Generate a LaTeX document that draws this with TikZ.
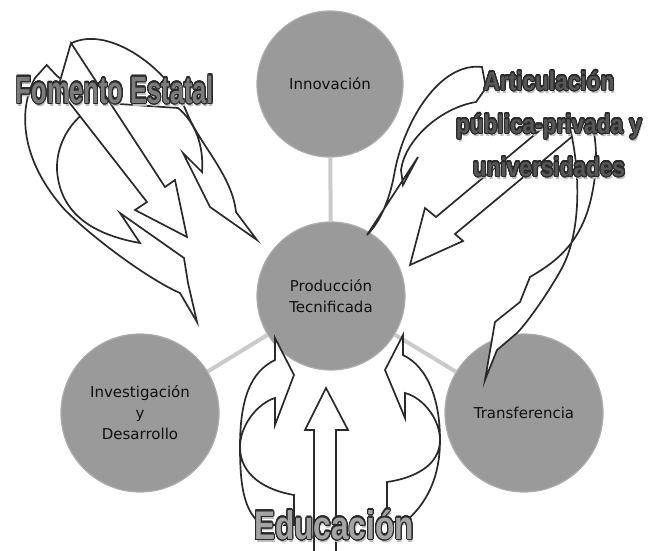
\documentclass[tikz,border=0pt]{standalone}
\usepackage{fontspec}
\usepackage{graphicx}
\usepackage[copies]{contour}
\usetikzlibrary{positioning}
\newfontfamily\circfont{DejaVu Sans}
\newfontfamily\artfont{Liberation Sans}
\definecolor{dgInk}{HTML}{111111}
\definecolor{dgCircle}{HTML}{9A9A9A}
\definecolor{dgRing}{HTML}{ACACAC}
\definecolor{dgLink}{HTML}{CACACA}
\definecolor{dgOutline}{HTML}{2A2A2A}
\definecolor{dgArtLine}{HTML}{2A2A2A}
\definecolor{dgShadow}{HTML}{BDBDBD}
\definecolor{dgFomFill}{HTML}{7C7C7C}
\definecolor{dgArtFill}{HTML}{575757}
\definecolor{dgEduFill}{HTML}{A4A4A4}
\contourlength{1.2pt}
\contournumber{24}
% texto tipo WordArt: sombra + contorno
\newcommand{\artword}[1]{\makebox[0pt][l]{\raisebox{-3pt}{\kern1.5pt\textcolor{dgShadow}{#1}}}\contour{dgArtLine}{#1}}
\tikzset{
  circ/.style={circle, fill=dgCircle, draw=dgRing, line width=1.2pt, minimum size=#1, inner sep=0pt, font=\circfont\fontsize{15}{21}\selectfont, text=dgInk, align=center},
  lnk/.style={draw=dgLink, line width=4pt},
  blk/.style={draw=dgOutline, fill=white, line width=1.7pt},
  wart/.style={inner sep=0pt, font=\artfont\bfseries},
}
\begin{document}
\begin{tikzpicture}[x=1pt, y=-1pt]
\useasboundingbox (0,0) rectangle (649,550);
% circulos
\node[circ=146pt] (innov) at (330,84) {Innovación};
\node[circ=148pt] (prod) at (331,296) {Producción\\Tecnificada};
\node[circ=158pt] (invest) at (140,413) {Investigación\\y\\Desarrollo};
\node[circ=158pt] (transf) at (524,413) {Transferencia};
\draw[lnk] (prod) -- (innov);
\draw[lnk] (prod) -- (invest);
\draw[lnk] (prod) -- (transf);
% flechas de Fomento Estatal
\draw[blk] (46.7,65) -- (35,78) .. controls (18,110) and (20,160) .. (65,210) .. controls (95,240) and (150,280) .. (180,293) -- (197,322) -- (188,283) -- (184,258) -- (120,213) -- (140,243) .. controls (95,235) and (60,215) .. (57,170) .. controls (56,140) and (75,115) .. (97,105) -- (57,76) -- cycle;
\draw[blk] (71.7,43) .. controls (110,25) and (170,70) .. (187,113) .. controls (200,145) and (232,175) .. (236,212) -- (257,240) -- (210,207) -- (183,153) -- (202,172) .. controls (204,145) and (195,122) .. (178,108) -- (90,102) -- (80,88) -- cycle;
\draw[blk] (71,43) -- (165,187) -- (175,180) -- (187,237) -- (135,210) -- (147,202) -- (58,88) -- cycle;
% flechas de Articulacion
\draw[blk] (482,67) .. controls (440,62) and (405,120) .. (395,170) .. controls (390,200) and (380,222) .. (367,235) -- (418,157) -- (403,185) -- (401,170) .. controls (405,140) and (440,108) .. (476,102) -- (486,88) -- cycle;
\draw[blk] (410,265) -- (425,208) -- (436,217) -- (545,126) -- (580,130) -- (455,234) -- (463,241) -- cycle;
\draw[blk] (570,128) .. controls (580,170) and (582,230) .. (562,268) .. controls (550,290) and (528,322) .. (517,333) -- (497,350) -- (485,380) -- (495,322) -- (520,302) -- (530,277) .. controls (550,265) and (575,250) .. (588,210) .. controls (597,180) and (598,150) .. (593,128) -- cycle;
% flechas de Educacion
\draw[blk] (314,556) -- (314,430) -- (305,430) -- (326,388) -- (348,430) -- (336,430) -- (336,556) -- cycle;
\draw[blk] (275,338) -- (275,360) .. controls (250,372) and (240,400) .. (240,447) .. controls (240,490) and (245,512) .. (262,525) -- (294,525) -- (294,495) .. controls (265,490) and (240,475) .. (240,447) .. controls (240,425) and (258,403) .. (275,398) -- (275,425) -- (294,375) -- cycle;
\draw[blk] (403,335) -- (403,355) .. controls (428,367) and (440,400) .. (440,440) .. controls (440,480) and (425,505) .. (405,522) -- (387,522) -- (387,482) .. controls (415,478) and (440,465) .. (440,440) .. controls (440,420) and (424,398) .. (405,393) -- (405,418) -- (385,370) -- cycle;
% rotulos
\node[wart, anchor=base] (fomento) at (115,103) {\color{dgFomFill}\scalebox{0.67}[1]{\fontsize{38}{40}\selectfont\artword{Fomento Estatal}}};
\node[wart, anchor=base] (articul) at (549,90) {\color{dgArtFill}\scalebox{0.87}[1]{\fontsize{26}{43}\selectfont\begin{tabular}[t]{@{}c@{}}\artword{Articulación}\\\artword{pública-privada y}\\\artword{universidades}\end{tabular}}};
\node[wart, anchor=base] (educ) at (334,539) {\color{dgEduFill}\scalebox{0.79}[1]{\fontsize{40}{44}\selectfont\artword{Educación}}};
\end{tikzpicture}
\end{document}
